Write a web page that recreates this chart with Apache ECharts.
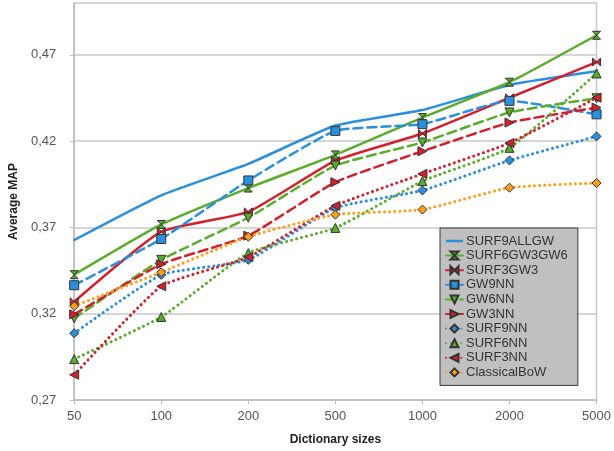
<!DOCTYPE html>
<html>
<head>
<meta charset="utf-8">
<script src="https://cdn.jsdelivr.net/npm/echarts@6/dist/echarts.min.js"></script>
<style>html,body{margin:0;padding:0;background:#fff}#c{width:614px;height:451px}</style>
</head>
<body>
<div id="c"></div>
<script>
const categories = ['50', '100', '200', '500', '1000', '2000', '5000'];
const yTicks = [0.27, 0.32, 0.37, 0.42, 0.47];

const SURF9ALLGW  = [0.3627, 0.3886, 0.4068, 0.4290, 0.4380, 0.4525, 0.4604];
const SURF6GW3GW6 = [0.3426, 0.3717, 0.3928, 0.4120, 0.4336, 0.4541, 0.4813];
const SURF3GW3    = [0.3269, 0.3675, 0.3790, 0.4087, 0.4244, 0.4451, 0.4658];
const GW9NN       = [0.3365, 0.3633, 0.3972, 0.4259, 0.4298, 0.4433, 0.4355];
const GW6NN       = [0.3173, 0.3512, 0.3756, 0.4058, 0.4192, 0.4366, 0.4448];
const GW3NN       = [0.3196, 0.3487, 0.3652, 0.3962, 0.4141, 0.4307, 0.4394];
const SURF9NN     = [0.3087, 0.3425, 0.3512, 0.3813, 0.3914, 0.4088, 0.4227];
const SURF6NN     = [0.2937, 0.3181, 0.3551, 0.3697, 0.3968, 0.4161, 0.4592];
const SURF3NN     = [0.2846, 0.3359, 0.3528, 0.3825, 0.4010, 0.4189, 0.4451];
const ClassicalBoW= [0.3244, 0.3440, 0.3646, 0.3774, 0.3803, 0.3930, 0.3957];

const BLUE = '#2a8fdc', GREEN = '#5aad2b', RED = '#d3202c', ORANGE = '#ff9e1b';
const SOLID = 'solid', DASH = [9, 5], DOT = [0.1, 5];
const HOURGLASS = 'path://M0,0 L10,0 L0,10 L10,10 Z';
const BOWTIE = 'path://M0,0 L0,10 L10,0 L10,10 Z';

function mk(name, data, color, dash, symbol, rotate, size) {
  return {
    name, type: 'line', data,
    smooth: 0.15,
    symbol: symbol || 'none',
    symbolSize: size || 8,
    symbolRotate: rotate || 0,
    showSymbol: !!symbol,
    lineStyle: { color, width: dash === DOT ? 3 : 2.5, type: dash, cap: 'round' },
    itemStyle: { color, borderColor: '#333', borderWidth: 1 },
    emphasis: { disabled: true },
    z: 2
  };
}

const series = [
  mk('SURF9ALLGW', SURF9ALLGW, BLUE, SOLID, null),
  mk('SURF6GW3GW6', SURF6GW3GW6, GREEN, SOLID, HOURGLASS, 0, 8),
  mk('SURF3GW3', SURF3GW3, RED, SOLID, BOWTIE, 0, 8),
  mk('GW9NN', GW9NN, BLUE, DASH, 'rect', 0, 9),
  mk('GW6NN', GW6NN, GREEN, DASH, 'triangle', 180, 9),
  mk('GW3NN', GW3NN, RED, DASH, 'triangle', -90, 9),
  mk('SURF9NN', SURF9NN, BLUE, DOT, 'diamond', 0, 9),
  mk('SURF6NN', SURF6NN, GREEN, DOT, 'triangle', 0, 9),
  mk('SURF3NN', SURF3NN, RED, DOT, 'triangle', 90, 9),
  mk('ClassicalBoW', ClassicalBoW, ORANGE, DOT, 'diamond', 0, 9)
];

const legendData = series.map(s => s.name === 'SURF9ALLGW'
  ? { name: s.name, icon: 'path://M0,0 L17,0 L17,2.5 L0,2.5 Z', itemStyle: { color: BLUE, borderWidth: 0 } }
  : { name: s.name });

const chart = echarts.init(document.getElementById('c'), null, { renderer: 'canvas' });
chart.setOption({
  animation: false,
  backgroundColor: '#fff',
  textStyle: { fontFamily: 'Liberation Sans, Arial, sans-serif' },
  grid: { left: 67, right: 14, top: 3, bottom: 48, show: true, borderColor: '#c8c8c8', borderWidth: 1.5, backgroundColor: '#fff' },
  legend: {
    orient: 'vertical', left: 440, top: 228,
    data: legendData,
    backgroundColor: '#c0c0c0', borderColor: '#3a3a3a', borderWidth: 1,
    padding: [6, 10, 6, 5],
    itemWidth: 17, itemHeight: 10, itemGap: 0.6,
    textStyle: { fontSize: 13, lineHeight: 14, color: '#333', fontFamily: 'Liberation Sans, Arial, sans-serif', padding: [0, 0, 0, -2] },
    selectedMode: false
  },
  xAxis: {
    type: 'category', data: categories, boundaryGap: false,
    name: 'Dictionary sizes', nameLocation: 'middle', nameGap: 34,
    nameTextStyle: { fontWeight: 'bold', fontSize: 12, color: '#222' },
    axisLine: { lineStyle: { color: '#bdbdbd', width: 1.5 } },
    axisTick: { show: true, length: 4, lineStyle: { color: '#bdbdbd' } },
    axisLabel: { color: '#555', fontSize: 13, margin: 10 },
    splitLine: { show: false }
  },
  yAxis: {
    type: 'value', min: 0.27, max: 0.50,
    name: 'Average MAP', nameLocation: 'middle', nameGap: 54,
    nameTextStyle: { fontWeight: 'bold', fontSize: 12, color: '#222' },
    axisLine: { show: true, lineStyle: { color: '#bdbdbd', width: 1.5 } },
    axisTick: { show: true, length: 4, customValues: yTicks, lineStyle: { color: '#bdbdbd' } },
    axisLabel: { color: '#555', fontSize: 13, margin: 18, customValues: yTicks,
      formatter: v => v.toFixed(2).replace('.', ',') },
    splitLine: { show: true, lineStyle: { color: '#c8c8c8', width: 1.5 } }
  },
  series
});
</script>
</body>
</html>
